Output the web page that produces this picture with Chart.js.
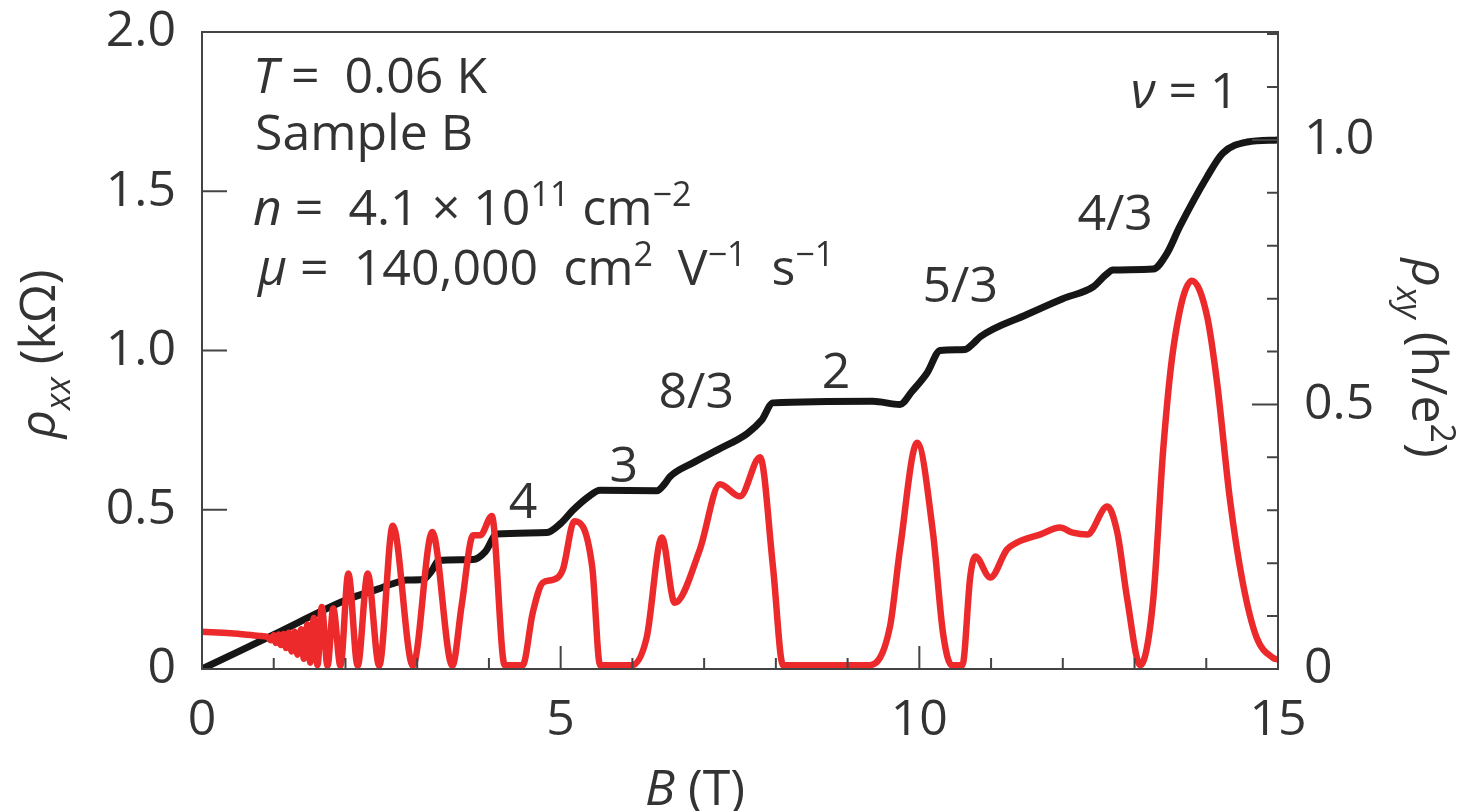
<!DOCTYPE html>
<html>
<head>
<meta charset="utf-8">
<script src="https://cdn.jsdelivr.net/npm/chart.js@4.4.1/dist/chart.umd.min.js"></script>
<style>
  html, body { margin: 0; padding: 0; background: #fff; }
</style>
</head>
<body>
<canvas id="myChart" width="1457" height="811"></canvas>
<script>
// rho_xy (black, right axis, h/e^2)
const hallB = [0, 1.0, 2.0, 2.45, 2.7, 2.85, 3.08, 3.2, 3.3, 3.78, 3.95, 4.11, 4.81, 5.0, 5.17, 5.38, 5.55, 6.34, 6.45, 6.52, 6.85, 7.2, 7.6, 7.8, 7.96, 9.35, 9.73, 9.9, 10.11, 10.29, 10.64, 10.75, 10.85, 11.5, 12.0, 12.42, 12.6, 12.7, 13.26, 13.45, 13.63, 14.01, 14.23, 14.57, 15]
const rhoXY = [0, 0.065, 0.13, 0.151, 0.163, 0.168, 0.169, 0.185, 0.205, 0.207, 0.222, 0.255, 0.258, 0.275, 0.300, 0.325, 0.338, 0.337, 0.350, 0.363, 0.390, 0.415, 0.445, 0.470, 0.503, 0.506, 0.500, 0.525, 0.560, 0.602, 0.604, 0.615, 0.628, 0.670, 0.700, 0.722, 0.745, 0.754, 0.756, 0.785, 0.836, 0.930, 0.975, 0.996, 1.0]

// rho_xx (red, left axis, kOhm)
const longB = [0, 0.4, 0.8, 0.92, 0.96, 1.0, 1.03, 1.07, 1.10, 1.14, 1.17, 1.21, 1.25, 1.29, 1.33, 1.38, 1.42, 1.47, 1.51, 1.56, 1.61, 1.67, 1.75, 1.83, 1.93, 2.04, 2.17, 2.31, 2.47, 2.66, 2.94, 3.21, 3.49, 3.62, 3.78, 3.88, 4.04, 4.22, 4.47, 4.61, 4.75, 4.89, 5.03, 5.19, 5.44, 5.55, 5.99, 6.2, 6.41, 6.59, 6.94, 7.22, 7.5, 7.78, 7.96, 8.1, 9.31, 9.59, 9.73, 9.97, 10.19, 10.33, 10.45, 10.6, 10.71, 10.78, 10.99, 11.22, 11.36, 11.68, 11.96, 12.14, 12.34, 12.62, 12.76, 12.9, 13.08, 13.26, 13.4, 13.54, 13.8, 14.01, 14.15, 14.33, 14.51, 14.7, 14.93, 15]
const rhoXX = [0.117, 0.112, 0.104, 0.100, 0.090, 0.106, 0.082, 0.108, 0.075, 0.110, 0.066, 0.114, 0.055, 0.118, 0.045, 0.125, 0.032, 0.140, 0.020, 0.160, 0.012, 0.195, 0.010, 0.190, 0.010, 0.300, 0.010, 0.300, 0.010, 0.450, 0.010, 0.430, 0.010, 0.200, 0.420, 0.420, 0.480, 0.012, 0.012, 0.176, 0.271, 0.280, 0.312, 0.464, 0.320, 0.012, 0.012, 0.100, 0.413, 0.208, 0.375, 0.580, 0.542, 0.665, 0.320, 0.012, 0.012, 0.132, 0.375, 0.710, 0.428, 0.113, 0.012, 0.012, 0.290, 0.353, 0.287, 0.375, 0.397, 0.422, 0.444, 0.428, 0.422, 0.510, 0.428, 0.217, 0.012, 0.217, 0.690, 1.005, 1.219, 1.109, 0.900, 0.532, 0.270, 0.100, 0.035, 0.030]

// filling factor labels: text, B, rho_xx baseline
const nuText = ['\u03bd = 1', '4/3', '5/3', '2', '8/3', '3', '4']
const nuB = [13.70, 12.73, 10.57, 8.84, 6.89, 5.88, 4.475]
const nuY = [1.761, 1.378, 1.152, 0.882, 0.819, 0.587, 0.474]

const FONT = '"Open Sans", "Noto Sans", sans-serif'
const INK = '#333'
const EN = '\u2002'

function fontFor(r, size) {
  const s = (r.sup || r.sub) ? Math.round(size * 0.68) : size
  return (r.it ? 'italic ' : '') + s + 'px ' + FONT
}

function drawRuns(ctx, runs, x, y, size, align) {
  let w = 0
  runs.forEach(r => { ctx.font = fontFor(r, size); w += ctx.measureText(r.t).width })
  let cx = align === 'center' ? x - w / 2 : x
  runs.forEach(r => {
    ctx.font = fontFor(r, size)
    const dy = r.sup ? -0.38 * size : r.sub ? 0.3 * size : 0
    ctx.fillText(r.t, cx, y + dy)
    cx += ctx.measureText(r.t).width
  })
}

const extras = {
  id: 'extras',
  afterDatasetsDraw(chart) {
    const { ctx, chartArea: a, scales } = chart
    ctx.save()
    ctx.strokeStyle = '#444'
    ctx.lineWidth = 2
    ctx.strokeRect(a.left, a.top, a.right - a.left, a.bottom - a.top)
    ctx.beginPath()
    scales.x.ticks.forEach(t => {
      const px = scales.x.getPixelForValue(t.value)
      const len = Math.round(t.value) % 5 === 0 ? 23 : 11
      ctx.moveTo(px, a.bottom); ctx.lineTo(px, a.bottom - len)
    })
    scales.y.ticks.forEach(t => {
      const py = scales.y.getPixelForValue(t.value)
      ctx.moveTo(a.left, py); ctx.lineTo(a.left + 25, py)
    })
    scales.y1.ticks.forEach(t => {
      const py = scales.y1.getPixelForValue(t.value)
      const major = Math.abs(t.value * 2 - Math.round(t.value * 2)) < 1e-6
      ctx.moveTo(a.right, py); ctx.lineTo(a.right - (major ? 26 : 11), py)
    })
    ctx.stroke()

    ctx.fillStyle = INK
    ctx.textBaseline = 'alphabetic'
    ctx.textAlign = 'left'
    const S = 50

    // info block
    drawRuns(ctx, [{ t: 'T', it: true }, { t: ' =' + EN + '0.06 K' }], 253, 93, S)
    drawRuns(ctx, [{ t: 'Sample B' }], 255, 150, S)
    drawRuns(ctx, [{ t: 'n', it: true }, { t: ' =' + EN + '4.1 \u00d7 10' }, { t: '11', sup: true }, { t: ' cm' }, { t: '\u22122', sup: true }], 253, 225, S)
    drawRuns(ctx, [{ t: '\u03bc', it: true }, { t: ' =' + EN + '140,000' + EN + 'cm' }, { t: '2', sup: true }, { t: EN + 'V' }, { t: '\u22121', sup: true }, { t: EN + 's' }, { t: '\u22121', sup: true }], 258, 285, S)

    // filling factors
    nuText.forEach((txt, i) => {
      const x = scales.x.getPixelForValue(nuB[i])
      const y = scales.y.getPixelForValue(nuY[i])
      const runs = txt.startsWith('\u03bd') ? [{ t: '\u03bd', it: true }, { t: ' = 1' }] : [{ t: txt }]
      drawRuns(ctx, runs, x, y, S, 'center')
    })

    // axis titles
    drawRuns(ctx, [{ t: 'B', it: true }, { t: ' (T)' }], 695, 805, S, 'center')

    ctx.save()
    ctx.translate(55, 354)
    ctx.rotate(-Math.PI / 2)
    drawRuns(ctx, [{ t: '\u03c1', it: true }, { t: 'xx', it: true, sub: true }, { t: ' (k\u03a9)' }], 0, 0, S, 'center')
    ctx.restore()

    ctx.save()
    ctx.translate(1412, 358)
    ctx.rotate(Math.PI / 2)
    drawRuns(ctx, [{ t: '\u03c1', it: true }, { t: 'xy', it: true, sub: true }, { t: ' (h/e' }, { t: '2', sup: true }, { t: ')' }], 0, 0, S, 'center')
    ctx.restore()

    ctx.restore()
  }
}

function noPad(s) {
  s.paddingTop = 0
  s.paddingBottom = 0
  s.paddingLeft = 0
  s.paddingRight = 0
}

const ctx = document.getElementById('myChart')

new Chart(ctx, {
  type: 'line',
  data: {
    datasets: [
      {
        data: longB.map((b, i) => ({ x: b, y: rhoXX[i] })),
        borderColor: '#ec2a2c',
        borderWidth: 6.5,
        pointRadius: 0,
        cubicInterpolationMode: 'monotone',
        clip: 0,
        yAxisID: 'y'
      },
      {
        data: hallB.map((b, i) => ({ x: b, y: rhoXY[i] })),
        borderColor: '#161616',
        borderWidth: 7,
        pointRadius: 0,
        cubicInterpolationMode: 'monotone',
        clip: 0,
        yAxisID: 'y1'
      }
    ]
  },
  options: {
    responsive: false,
    animation: false,
    events: [],
    layout: { padding: { top: 32, left: 0, right: 0, bottom: 0 } },
    plugins: { legend: { display: false }, tooltip: { enabled: false } },
    scales: {
      x: {
        type: 'linear', min: 0, max: 15,
        grid: { display: false }, border: { display: false },
        ticks: {
          stepSize: 1, autoSkip: false, maxRotation: 0, padding: 14,
          font: { family: FONT, size: 50 }, color: INK,
          callback: v => (Math.round(v) % 5 === 0 ? String(Math.round(v)) : '')
        },
        afterFit: s => { s.height = 142; noPad(s) }
      },
      y: {
        position: 'left', min: 0, max: 2.0,
        grid: { display: false }, border: { display: false },
        ticks: {
          stepSize: 0.5, autoSkip: false, padding: 18,
          font: { family: FONT, size: 50 }, color: INK,
          callback: v => (v === 0 ? '0' : v.toFixed(1))
        },
        afterFit: s => { s.width = 202; noPad(s) }
      },
      y1: {
        position: 'right', min: 0, max: 1.204,
        grid: { display: false }, border: { display: false },
        ticks: {
          stepSize: 0.1, autoSkip: false, includeBounds: false, padding: 18,
          font: { family: FONT, size: 50 }, color: INK,
          callback: v => {
            const r = Math.round(v * 10) / 10
            if (r === 0) return '0'
            if (r === 0.5 || r === 1) return r.toFixed(1)
            return ''
          }
        },
        afterFit: s => { s.width = 179; noPad(s) }
      }
    }
  },
  plugins: [extras]
})
</script>
</body>
</html>
